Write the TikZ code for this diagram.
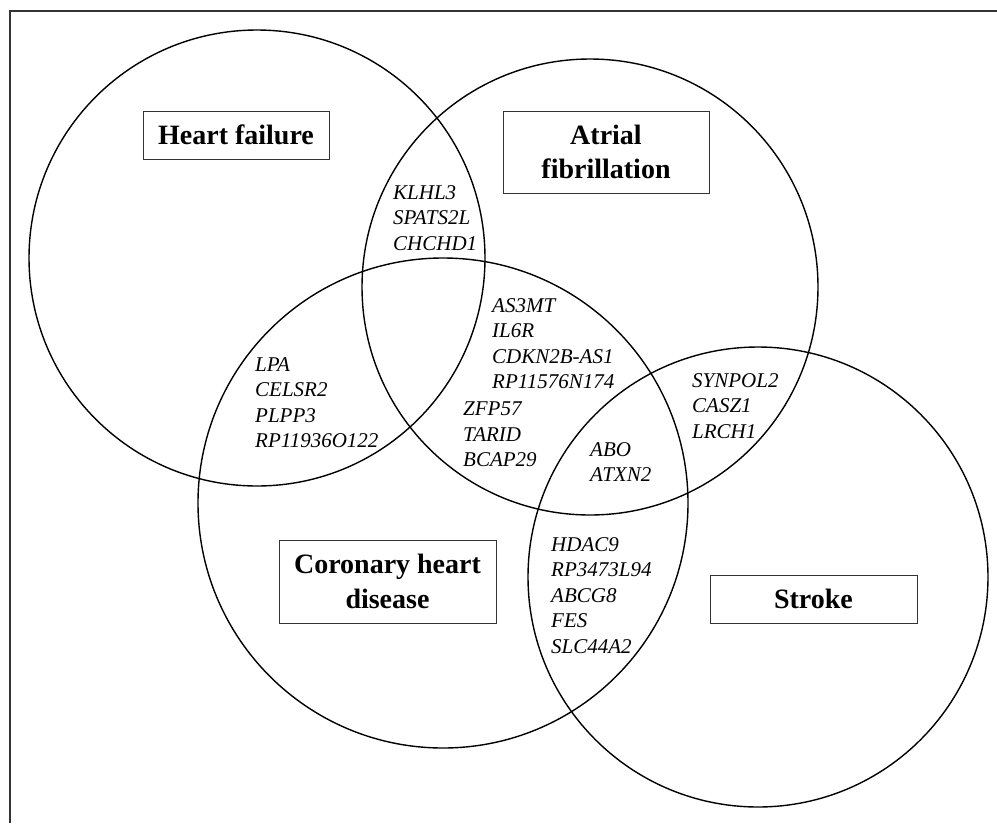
\documentclass[tikz,border=0pt]{standalone}
\usepackage{fontspec}
\setmainfont{Liberation Serif}
\begin{document}
\begin{tikzpicture}[x=1pt, y=-1pt,
    setline/.style={line width=1.4pt},
    disease/.style={draw=black!80, line width=1pt, align=center, inner sep=0pt,
        font=\fontsize{28}{34.5}\selectfont\bfseries},
    genes/.style={anchor=north west, align=left, inner sep=0pt,
        font=\fontsize{21}{25.5}\selectfont\itshape}]
    \useasboundingbox (0,0) rectangle (997,823);

    % Frame
    \draw[line width=2.5pt, black!80] (10,823) -- (10,11) -- (997,11);

    % Four sets
    \draw[setline] (257,258) circle (228pt);
    \draw[setline] (590,287) circle (228pt);
    \draw[setline] (443,503) circle (245pt);
    \draw[setline] (758,577) circle (230pt);

    % Set labels
    \node[disease, minimum width=186pt, minimum height=48pt] (hf) at (236,135) {Heart failure};
    \node[disease, minimum width=206pt, minimum height=82pt] (af) at (606,152) {Atrial\\fibrillation};
    \node[disease, minimum width=217pt, minimum height=83pt] (chd) at (387.5,581.5) {Coronary heart\\disease};
    \node[disease, minimum width=207pt, minimum height=48pt] (stroke) at (813.5,599) {Stroke};

    % Shared genes
    \node[genes] (hfaf) at (393,185) {KLHL3\\SPATS2L\\CHCHD1};
    \node[genes] (hfafchd) at (492,298) {AS3MT\\IL6R\\CDKN2B-AS1\\RP11576N174};
    \node[genes] (afchd) at (463,402) {ZFP57\\TARID\\BCAP29};
    \node[genes] (hfchd) at (255,357) {LPA\\CELSR2\\PLPP3\\RP11936O122};
    \node[genes] (afst) at (692,373) {SYNPOL2\\CASZ1\\LRCH1};
    \node[genes] (afchdst) at (590,442) {ABO\\ATXN2};
    \node[genes] (chdst) at (551,537) {HDAC9\\RP3473L94\\ABCG8\\FES\\SLC44A2};
\end{tikzpicture}
\end{document}
